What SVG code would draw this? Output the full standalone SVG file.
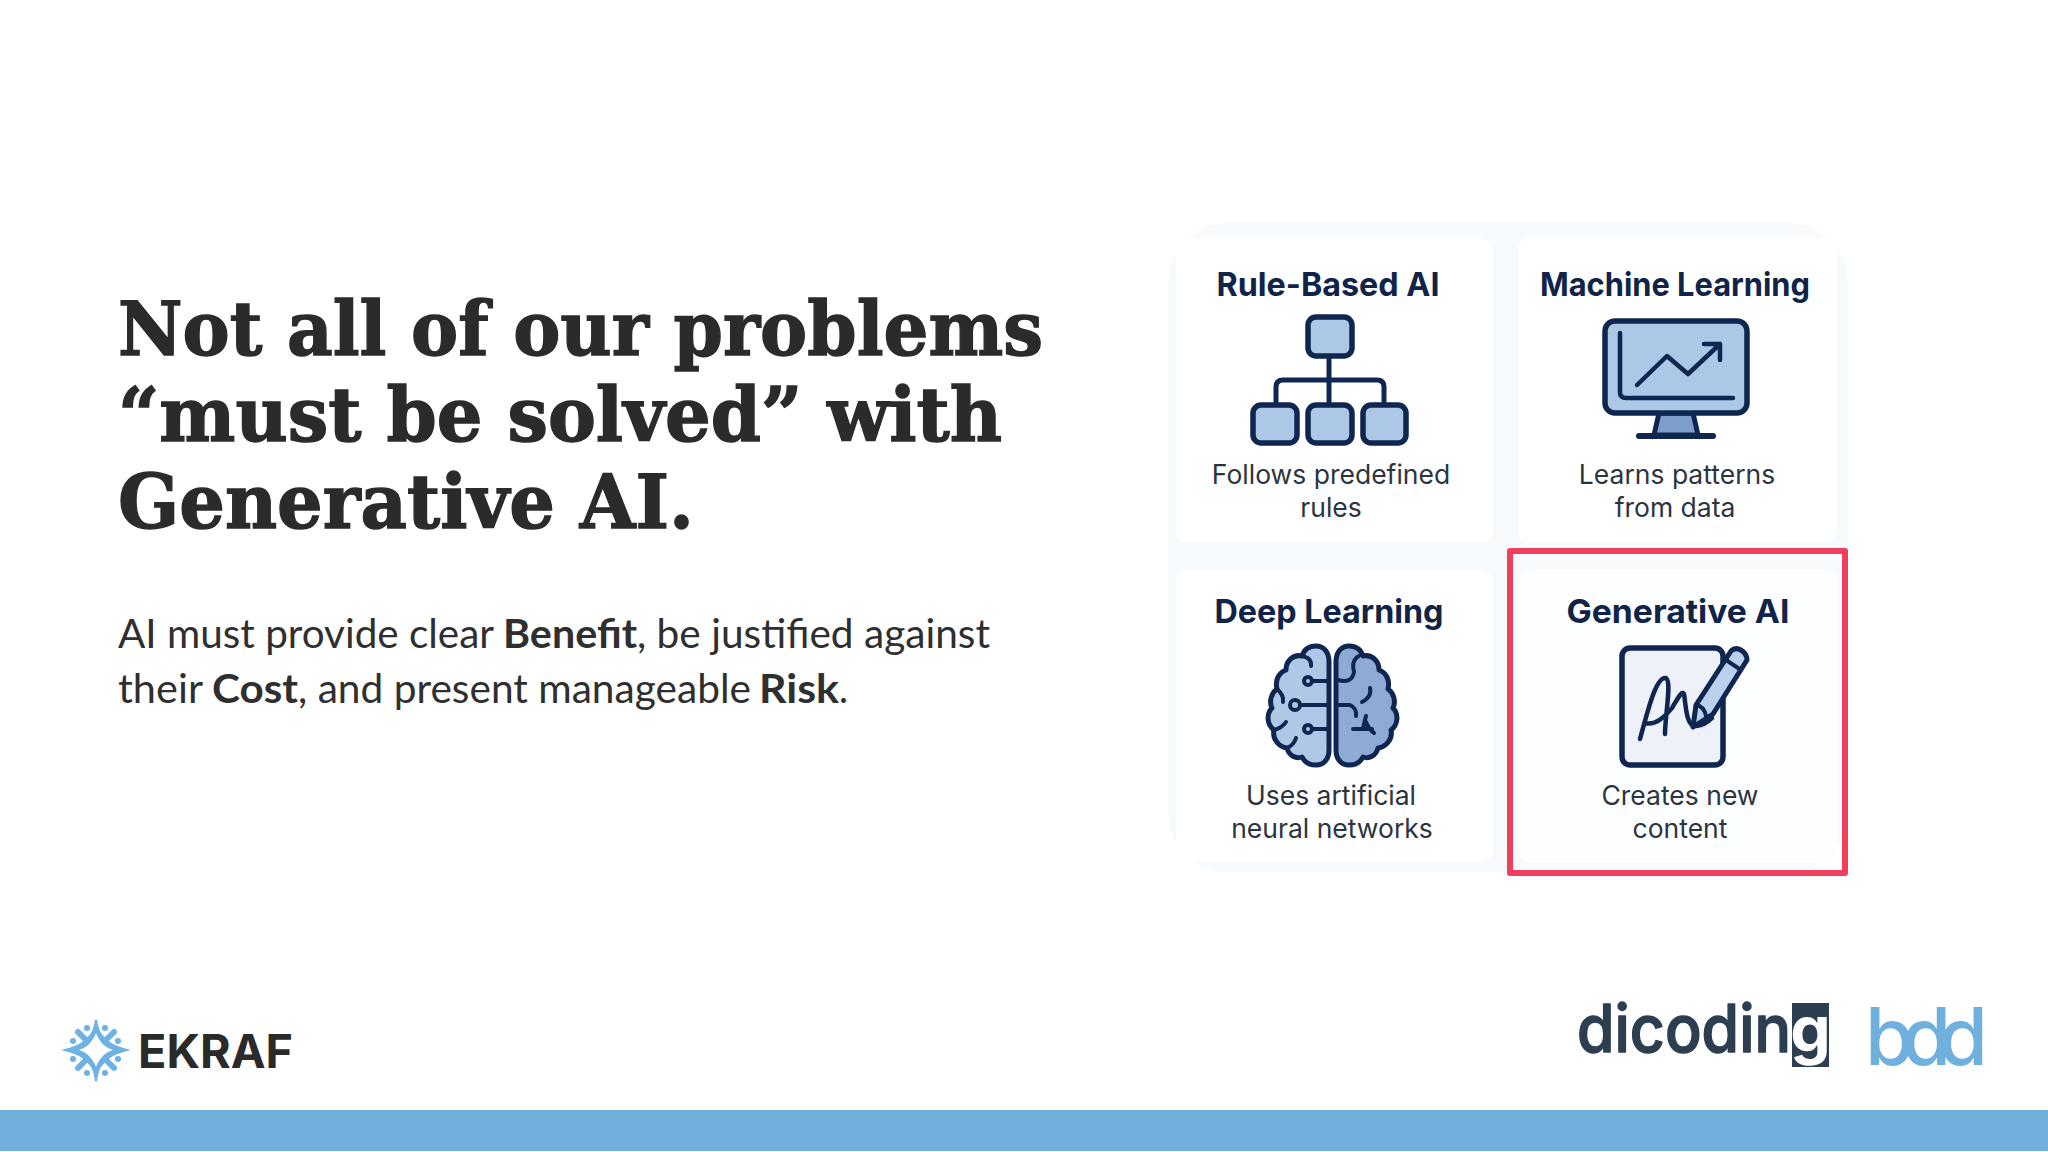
<svg xmlns="http://www.w3.org/2000/svg" width="2048" height="1152" viewBox="0 0 2048 1152">
<style>
.h{font-family:"DejaVu Serif","Liberation Serif",serif;font-weight:700;font-size:74px;fill:#2b2b2b;stroke:#2b2b2b;stroke-width:1.4}
.s{font-family:"Lato","Open Sans",sans-serif;font-size:40px;fill:#2f2f2f}
.b{font-weight:700}
.t{font-family:"Inter","Noto Sans",sans-serif;font-weight:700;font-size:33px;fill:#0f2448;text-anchor:middle}
.d{font-family:"Inter","Noto Sans",sans-serif;font-weight:400;font-size:26.500px;fill:#2c3440;text-anchor:middle}
.i{fill:#adc7e7;stroke:#0f2650;stroke-width:5.500;stroke-linejoin:round;stroke-linecap:round}
.l{fill:none;stroke:#0f2650;stroke-width:5;stroke-linejoin:round;stroke-linecap:round}
.c{fill:#fff}
.e{fill:#6db2e4}
</style>
<defs>
<path id="hemi" d="M1329 662C1329 651 1323 646 1316 646C1309 646 1304 650 1302 656C1293 654 1286 661 1286 670C1278 673 1275 681 1277 689C1271 693 1269 702 1272 708C1266 714 1267 725 1274 730C1272 739 1279 747 1287 748C1289 756 1296 759 1302 757C1305 763 1310 765 1316 765C1324 765 1329 759 1329 750Z"/>
</defs>
<rect width="2048" height="1152" fill="#fff"/>
<g id="headline">
<text class="h" x="118" y="355" textLength="925" lengthAdjust="spacingAndGlyphs">Not all of our problems</text>
<text class="h" x="118" y="441" textLength="884" lengthAdjust="spacingAndGlyphs">“must be solved” with</text>
<text class="h" x="118" y="528" textLength="576" lengthAdjust="spacingAndGlyphs">Generative AI.</text>
</g>
<g id="subtitle">
<text class="s" y="648"><tspan x="118" textLength="376" lengthAdjust="spacingAndGlyphs">AI must provide clear</tspan><tspan class="b" x="503" textLength="134" lengthAdjust="spacingAndGlyphs">Benefit</tspan><tspan x="637" textLength="353" lengthAdjust="spacingAndGlyphs">, be justified against</tspan></text>
<text class="s" y="703"><tspan x="118" textLength="85" lengthAdjust="spacingAndGlyphs">their</tspan><tspan class="b" x="212" textLength="86" lengthAdjust="spacingAndGlyphs">Cost</tspan><tspan x="298" textLength="453" lengthAdjust="spacingAndGlyphs">, and present manageable</tspan><tspan class="b" x="759" textLength="80" lengthAdjust="spacingAndGlyphs">Risk</tspan><tspan x="839" textLength="9" lengthAdjust="spacingAndGlyphs">.</tspan></text>
</g>
<rect id="panel" x="1168" y="223" width="680" height="649" rx="60" fill="#f7fbfe"/>
<g id="rule-based">
<rect class="c" x="1176" y="238" width="317" height="305" rx="12"/>
<text class="t" x="1328" y="296" textLength="223" lengthAdjust="spacingAndGlyphs">Rule-Based AI</text>
<path class="l" d="M1329 357V404M1276 404V387Q1276 380 1283 380H1377Q1384 380 1384 387V404"/>
<rect class="i" x="1308" y="317" width="44" height="39" rx="8"/>
<rect class="i" x="1253" y="405" width="44" height="38" rx="8"/>
<rect class="i" x="1308" y="405" width="44" height="38" rx="8"/>
<rect class="i" x="1363" y="405" width="43" height="38" rx="8"/>
<text class="d" x="1331" y="484">Follows predefined</text>
<text class="d" x="1331" y="517">rules</text>
</g>
<g id="machine-learning">
<rect class="c" x="1518" y="238" width="319" height="305" rx="12"/>
<text class="t" x="1675" y="296" textLength="270" lengthAdjust="spacingAndGlyphs">Machine Learning</text>
<path d="M1659 413H1693L1698 435H1654Z" fill="#7f9fcb" stroke="#0f2650" stroke-width="5" stroke-linejoin="round"/>
<path class="l" style="stroke-width:6" d="M1639 436H1713"/>
<rect class="i" x="1605" y="321" width="142" height="92" rx="10"/>
<path class="l" style="stroke-width:4.500" d="M1620 333V392Q1620 398 1626 398H1733M1637 385L1667 356L1688 374L1720 344M1704 344H1720V360"/>
<text class="d" x="1677" y="484">Learns patterns</text>
<text class="d" x="1675" y="517">from data</text>
</g>
<g id="deep-learning">
<rect class="c" x="1176" y="570" width="317" height="292" rx="12"/>
<text class="t" x="1329" y="623" textLength="229" lengthAdjust="spacingAndGlyphs">Deep Learning</text>
<use href="#hemi" fill="#afc8e8" stroke="#0f2650" stroke-width="5" stroke-linejoin="round"/>
<use href="#hemi" transform="matrix(-1 0 0 1 2665 0)" fill="#8fabd5" stroke="#0f2650" stroke-width="5" stroke-linejoin="round"/>
<path class="l" style="stroke-width:4" d="M1312 681H1327M1299 705H1327M1312 729H1327M1302 656Q1312 658 1311 666M1277 689Q1284 695 1283 702M1274 730Q1282 728 1286 722M1287 748Q1294 745 1296 738M1338 680Q1352 684 1354 672Q1351 660 1359 656M1338 705H1350Q1357 708 1356 716M1353 729H1372M1363 728Q1365 720 1366 716M1366 722Q1368 728 1374 733M1370 688Q1372 697 1362 702"/>
<g fill="#adc7e7" stroke="#0f2650" stroke-width="4"><circle cx="1308" cy="681" r="4"/><circle cx="1295" cy="705" r="5"/><circle cx="1308" cy="729" r="4"/></g>
<text class="d" x="1331" y="805">Uses artificial</text>
<text class="d" x="1332" y="838">neural networks</text>
</g>
<g id="generative-ai">
<rect x="1518" y="570" width="319" height="292" rx="12" fill="#fdfeff"/>
<text class="t" x="1678" y="623" textLength="223" lengthAdjust="spacingAndGlyphs">Generative AI</text>
<rect x="1622" y="648" width="101" height="117" rx="8" fill="#eef2f8" stroke="#0f2650" stroke-width="5.500"/>
<path class="l" style="stroke-width:4.500" d="M1640 739C1648 710 1656 676 1666 678C1672 682 1665 715 1665 734M1645 723C1655 726 1666 716 1672 708C1678 698 1682 690 1684 694C1686 705 1686 727 1696 726C1702 726 1708 722 1712 718"/>
<path d="M1693 727L1696 705L1731 651C1737 645 1747 652 1747 660L1713 714Z" fill="#bad0ec" stroke="#0f2650" stroke-width="5" stroke-linejoin="round"/>
<path class="l" style="stroke-width:4" d="M1726 660L1741 670M1696 705Q1704 706 1706 716"/>
<text class="d" x="1680" y="805">Creates new</text>
<text class="d" x="1680" y="838">content</text>
</g>
<rect id="highlight" x="1510" y="551" width="335" height="322" fill="none" stroke="#f13f5e" stroke-width="6" stroke-linejoin="round"/>
<g id="ekraf">
<path class="e" d="M96 1020C98 1032 100 1034 104 1038C109 1043 112 1046 127 1050C112 1054 109 1057 104 1062C100 1066 98 1068 96 1081C94 1068 92 1066 88 1062C83 1057 80 1054 65 1050C80 1046 83 1043 88 1038C92 1034 94 1032 96 1020Z" stroke="#6db2e4" stroke-width="2"/>
<path fill="#fff" d="M96 1033C99 1041 104 1047 113 1050C104 1053 99 1059 96 1067C93 1059 88 1053 79 1050C88 1047 93 1041 96 1033Z"/>
<path fill="none" stroke="#6db2e4" stroke-width="6" stroke-linecap="round" d="M78 1032L86 1040M114 1032L106 1040M78 1068L86 1060M114 1068L106 1060"/>
<g class="e"><circle cx="87" cy="1028" r="3"/><circle cx="105" cy="1028" r="3"/><circle cx="73" cy="1041" r="3"/><circle cx="118" cy="1041" r="3"/><circle cx="73" cy="1059" r="3"/><circle cx="118" cy="1059" r="3"/><circle cx="87" cy="1073" r="3"/><circle cx="105" cy="1073" r="3"/></g>
<text x="138" y="1068" font-family="Inter,sans-serif" font-weight="700" font-size="47" fill="#2a2a2a" textLength="155" lengthAdjust="spacingAndGlyphs">EKRAF</text>
</g>
<g id="dicoding">
<text x="1577" y="1052" font-family="Inter,sans-serif" font-weight="500" font-size="66" fill="#2c3e50" stroke="#2c3e50" stroke-width="1.500" stroke-linejoin="round" textLength="214" lengthAdjust="spacingAndGlyphs">dicodin</text>
<rect x="1792" y="1003" width="37" height="64" fill="#2c3e50"/>
<text x="1810.500" y="1052" font-family="Inter,sans-serif" font-weight="700" font-size="64" fill="#fff" text-anchor="middle">g</text>
</g>
<text id="bdd" x="1865" y="1065" font-family="Inter,sans-serif" font-weight="500" font-size="80" fill="#6fb0de" textLength="123">bdd</text>
<rect id="footer-bar" y="1110" width="2048" height="41" fill="#72aedc"/>
</svg>
